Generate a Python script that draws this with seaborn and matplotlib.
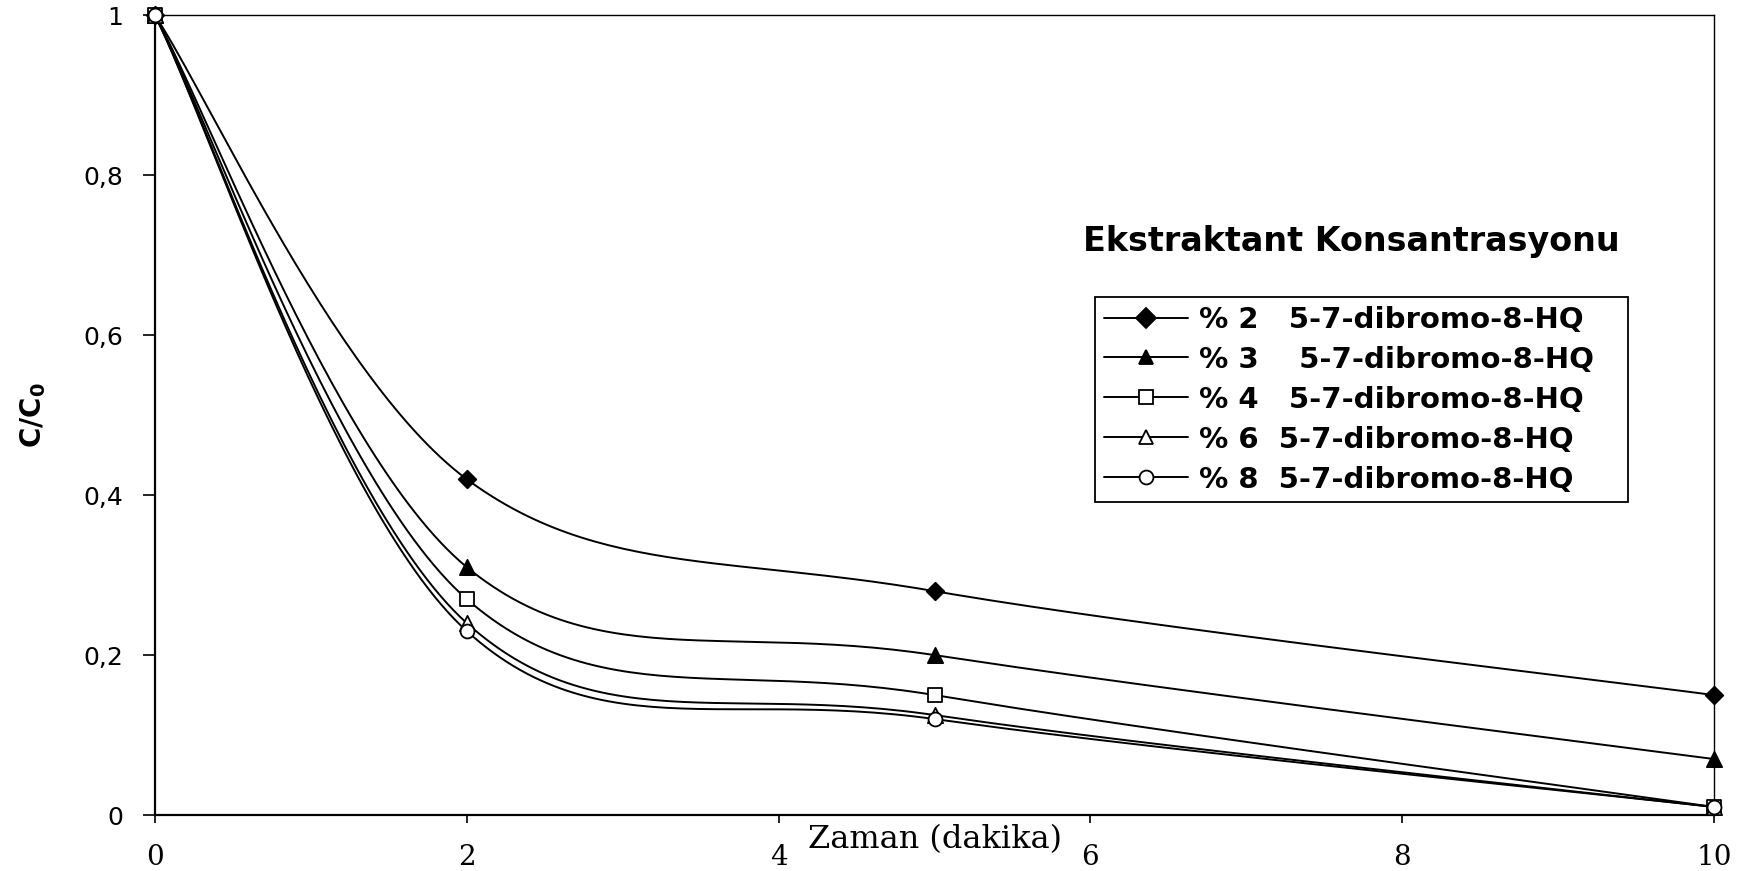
import numpy as np
import pandas as pd
import matplotlib
matplotlib.use("Agg")
import matplotlib.pyplot as plt
from matplotlib.lines import Line2D
import seaborn as sns

# values
zaman = [0, 2, 5, 10]
c_2 = [1.0, 0.42, 0.28, 0.15]
c_3 = [1.0, 0.31, 0.20, 0.07]
c_4 = [1.0, 0.27, 0.15, 0.01]
c_6 = [1.0, 0.24, 0.125, 0.01]
c_8 = [1.0, 0.23, 0.12, 0.01]
series_labels = [
    "% 2   5-7-dibromo-8-HQ",
    "% 3    5-7-dibromo-8-HQ",
    "% 4   5-7-dibromo-8-HQ",
    "% 6  5-7-dibromo-8-HQ",
    "% 8  5-7-dibromo-8-HQ",
]
x_ticks = [0, 2, 4, 6, 8, 10]
y_ticks = [0, 0.2, 0.4, 0.6, 0.8, 1]
y_tick_labels = ["0", "0,2", "0,4", "0,6", "0,8", "1"]
legend_title = "Ekstraktant Konsantrasyonu"
x_label = "Zaman (dakika)"
y_label = r"$\mathbf{C/C_0}$"

all_series = [c_2, c_3, c_4, c_6, c_8]
markers = ["D", "^", "s", "^", "o"]
faces = ["black", "black", "white", "white", "white"]
marker_sizes = [80, 120, 110, 120, 100]


def excel_smooth(xs, ys, n=60):
    # Catmull-Rom style Bezier smoothing, like Excel's "smoothed line"
    p = np.column_stack([xs, ys]).astype(float)
    pe = np.vstack([p[0], p, p[-1]])
    t = np.linspace(0, 1, n)[:, None]
    parts = []
    for i in range(len(p) - 1):
        p0, p1, p2, p3 = pe[i], pe[i + 1], pe[i + 2], pe[i + 3]
        c1 = p1 + (p2 - p0) / 6
        c2 = p2 - (p3 - p1) / 6
        seg = (1 - t) ** 3 * p1 + 3 * (1 - t) ** 2 * t * c1 + 3 * (1 - t) * t ** 2 * c2 + t ** 3 * p2
        parts.append(seg if i == 0 else seg[1:])
    out = np.vstack(parts)
    return out[:, 0], out[:, 1]


rows = []
for lab, vals in zip(series_labels, all_series):
    sx, sy = excel_smooth(zaman, vals)
    rows.append(pd.DataFrame({"x": sx, "y": sy, "series": lab}))
curve_df = pd.concat(rows, ignore_index=True)

sns.set_style("ticks")
plt.rcParams["font.family"] = ["DejaVu Sans"]
plt.rcParams["text.color"] = "black"
plt.rcParams["axes.labelcolor"] = "black"
plt.rcParams["xtick.color"] = "black"
plt.rcParams["ytick.color"] = "black"

W, H = 1742, 871
fig = plt.figure(figsize=(W / 100, H / 100), dpi=100)
ax = fig.add_axes([155 / W, 1 - 815 / H, (1714 - 155) / W, (815 - 15.5) / H])

sns.lineplot(
    data=curve_df, x="x", y="y", units="series", estimator=None, sort=False,
    color="black", linewidth=1.4, ax=ax, legend=False,
)
for vals, m, fc, s in zip(all_series, markers, faces, marker_sizes):
    sns.scatterplot(
        x=zaman, y=vals, marker=m, s=s, color=fc, edgecolor="black",
        linewidth=1.3, ax=ax, zorder=4, clip_on=False, legend=False,
    )

ax.set_xlim(0, 10)
ax.set_ylim(0, 1)
ax.set_xticks(x_ticks, labels=[str(v) for v in x_ticks], fontfamily="DejaVu Serif", fontsize=20)
ax.set_yticks(y_ticks, labels=y_tick_labels, fontsize=18)
ax.tick_params(axis="x", direction="out", length=6, width=1.2, pad=15, colors="black")
ax.tick_params(axis="y", direction="out", length=9, width=1.2, pad=14, colors="black")
for side in ["left", "bottom"]:
    ax.spines[side].set_linewidth(1.6)
    ax.spines[side].set_color("black")
for side in ["top", "right"]:
    ax.spines[side].set_linewidth(1.0)
    ax.spines[side].set_color("black")
    ax.spines[side].set_visible(True)

ax.set_xlabel(x_label, fontfamily="DejaVu Serif", fontsize=23, color="black")
ax.xaxis.set_label_coords(0.5, -(848 - 815) / (815 - 15.5))
ax.xaxis.label.set_va("baseline")
ax.set_ylabel(y_label, fontsize=20, color="black")
ax.yaxis.set_label_coords((33 - 155) / (1714 - 155), 0.5)
ax.yaxis.label.set_va("center")

handles = [
    Line2D([], [], color="black", linewidth=1.4, marker=m, markersize=10,
           markerfacecolor=fc, markeredgecolor="black", markeredgewidth=1.3)
    for m, fc in zip(markers, faces)
]
leg = fig.legend(
    handles=handles, labels=series_labels, loc="upper left",
    bbox_to_anchor=(1095 / W, 1 - 297 / H - 0.01, (1628 - 1095) / W, 0.01),
    bbox_transform=fig.transFigure, mode="expand", borderaxespad=0,
    prop={"family": "DejaVu Sans", "weight": "bold", "size": 21},
    handlelength=2.9, handletextpad=0.35, borderpad=0.3, labelspacing=0.41,
    fancybox=False, framealpha=1, edgecolor="black",
)
leg.get_frame().set_linewidth(1.3)
for txt in leg.get_texts():
    txt.set_color("black")

fig.text(1351 / W, 1 - 242 / H, legend_title, ha="center", va="center",
         fontsize=24, fontweight="bold", fontfamily="DejaVu Sans", color="black")

fig.savefig("out.png", dpi=100, facecolor="white")
